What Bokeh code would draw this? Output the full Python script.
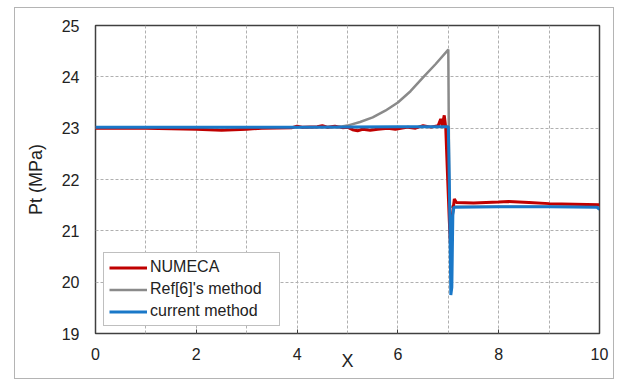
from bokeh.plotting import figure
from bokeh.models import FixedTicker, Legend, LegendItem
from bokeh.embed import file_html
from bokeh.resources import INLINE

# Total pressure along X for three solvers
x_numeca = [0.0, 1.0, 1.5, 2.0, 2.5, 3.0, 3.3, 3.9, 4.0, 4.1, 4.4, 4.5, 4.6, 4.75, 4.9,
            5.0, 5.1, 5.2, 5.3, 5.45, 5.6, 5.8, 5.95, 6.2, 6.35, 6.5, 6.65, 6.8, 6.85,
            6.88, 6.92, 6.95, 6.98, 7.02, 7.05, 7.08, 7.12, 7.16, 7.5, 8.0, 8.2, 8.6,
            9.0, 9.5, 10.0]
pt_numeca = [23.0, 23.0, 22.99, 22.98, 22.96, 22.98, 23.0, 23.01, 23.04, 23.02, 23.03,
             23.05, 23.02, 23.04, 23.01, 23.02, 22.97, 22.95, 22.98, 22.96, 22.98, 23.0,
             22.98, 23.02, 23.0, 23.05, 23.02, 23.05, 23.18, 23.05, 23.25, 23.0, 22.2,
             21.2, 20.6, 21.3, 21.62, 21.55, 21.54, 21.56, 21.57, 21.55, 21.53, 21.52,
             21.51]

x_ref6 = [0.0, 2.0, 4.0, 4.8, 5.0, 5.25, 5.5, 5.75, 6.0, 6.25, 6.5, 6.75, 7.0, 7.02, 10.0]
pt_ref6 = [23.02, 23.02, 23.02, 23.02, 23.05, 23.12, 23.21, 23.34, 23.5, 23.72, 23.99,
           24.25, 24.53, 21.47, 21.47]

x_current = [0.0, 2.0, 4.0, 6.0, 7.0, 7.02, 7.05, 7.07, 7.09, 7.11, 8.0, 9.0, 9.95, 10.0]
pt_current = [23.02, 23.02, 23.02, 23.03, 23.03, 22.0, 19.75, 19.9, 21.3, 21.46, 21.47,
              21.47, 21.46, 21.42]

x_ticks = [0, 2, 4, 6, 8, 10]
x_grid = [0, 1, 2, 3, 4, 5, 6, 7, 8, 9, 10]
y_ticks = [19, 20, 21, 22, 23, 24, 25]

series_names = ["NUMECA", "Ref[6]'s method", "current method"]

FONT = "Liberation Sans"

p = figure(width=600, height=372, x_range=(0, 10), y_range=(19, 25),
           output_backend="svg", toolbar_location=None,
           min_border_left=80, min_border_right=16, min_border_top=17,
           min_border_bottom=47, background_fill_color="white",
           border_fill_color="white")
p.styles = {"border": "1px solid #b4b4b4", "margin-left": "14px", "margin-top": "7px"}

p.outline_line_color = "#404040"
p.outline_line_width = 1.5

# grid
p.xgrid.ticker = FixedTicker(ticks=x_grid)
p.ygrid.ticker = FixedTicker(ticks=y_ticks)
for g in (p.xgrid, p.ygrid):
    g.grid_line_color = "#b0b0b0"
    g.grid_line_dash = "3 2"
    g.grid_line_width = 1

# axes
p.xaxis.ticker = FixedTicker(ticks=x_ticks)
p.yaxis.ticker = FixedTicker(ticks=y_ticks)
p.xaxis.axis_label = "X"
p.yaxis.axis_label = "Pt (MPa)"
for ax in (p.xaxis, p.yaxis):
    ax.axis_line_color = None
    ax.minor_tick_line_color = None
    ax.major_label_text_font = FONT
    ax.major_label_text_font_size = "16px"
    ax.major_label_text_color = "#222222"
    ax.axis_label_text_font = FONT
    ax.axis_label_text_font_style = "normal"
    ax.axis_label_text_color = "#222222"
p.xaxis.major_tick_in = 4
p.xaxis.major_tick_out = 0
p.xaxis.major_tick_line_color = "#404040"
p.xaxis.major_label_standoff = 14
p.xaxis.axis_label_text_font_size = "18px"
p.xaxis.axis_label_standoff = -12
p.yaxis.major_tick_in = 0
p.yaxis.major_tick_out = 0
p.yaxis.major_label_standoff = 16
p.yaxis.axis_label_text_font_size = "18px"
p.yaxis.axis_label_standoff = 13

r_ref = p.line(x_ref6, pt_ref6, line_color="#8a8a8a", line_width=2.5)
r_num = p.line(x_numeca, pt_numeca, line_color="#c00000", line_width=3)
r_cur = p.line(x_current, pt_current, line_color="#1a78c8", line_width=3)

legend = Legend(items=[LegendItem(label=series_names[0], renderers=[r_num]),
                       LegendItem(label=series_names[1], renderers=[r_ref]),
                       LegendItem(label=series_names[2], renderers=[r_cur])],
                location=(8, 7), padding=5, spacing=4, margin=0,
                glyph_width=38, glyph_height=17, label_height=17,
                label_standoff=3, label_width=124,
                label_text_font=FONT, label_text_font_size="16px",
                label_text_color="#222222",
                border_line_color="#808080", border_line_width=1,
                background_fill_color="white", background_fill_alpha=1)
p.add_layout(legend, "center")

open("out.html", "w").write(file_html(p, INLINE))
